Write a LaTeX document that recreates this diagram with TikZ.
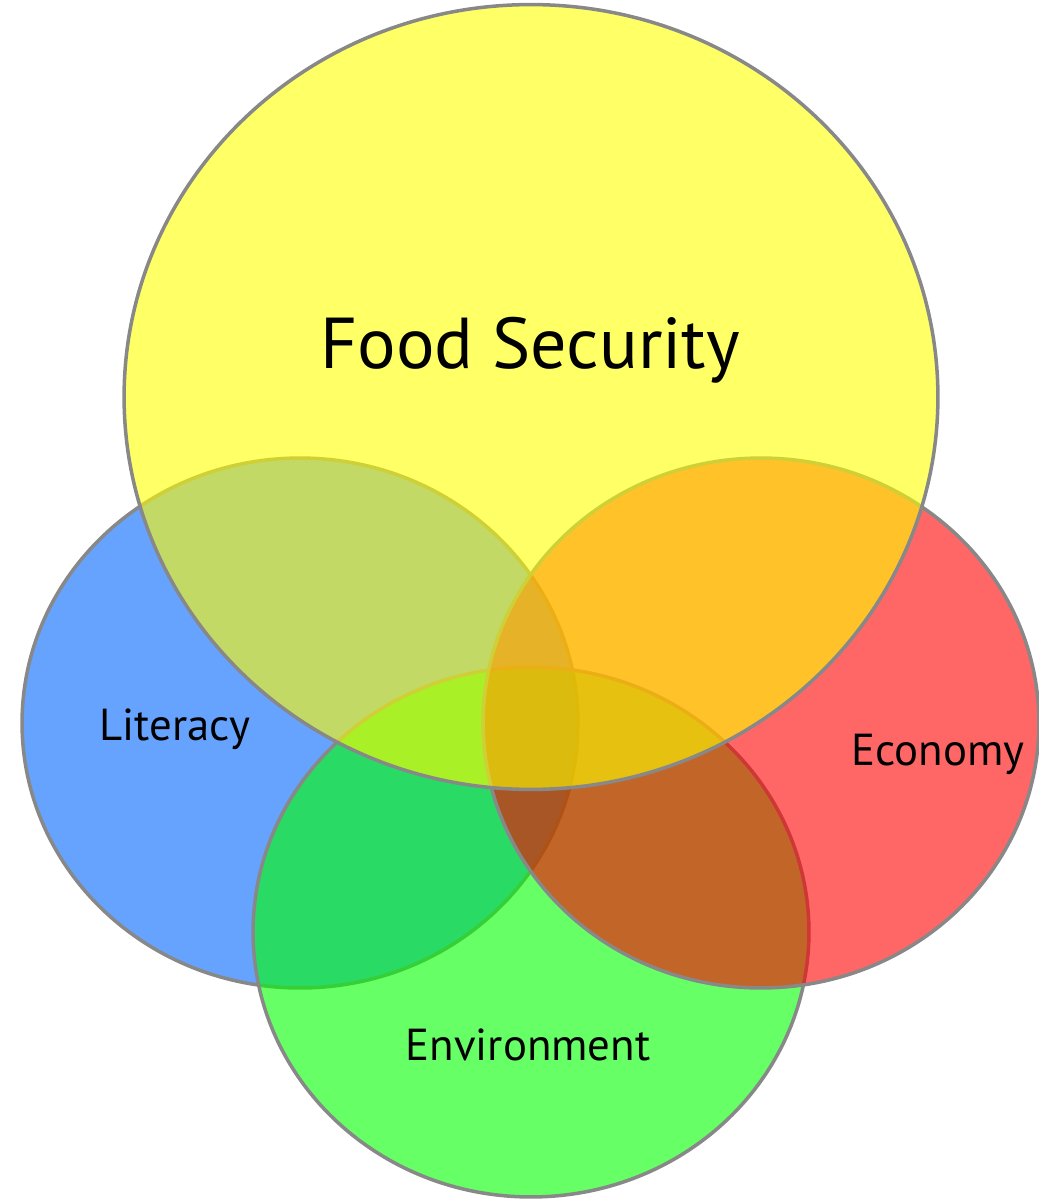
\documentclass[tikz,border=0pt]{standalone}
\usepackage{fontspec}
\setmainfont{PT Sans}
\usetikzlibrary{shapes.geometric}
\definecolor{ringgray}{HTML}{888888}
\definecolor{litblue}{HTML}{0066FF}
\definecolor{envgreen}{HTML}{00FF00}
\definecolor{ecored}{HTML}{FF0000}
\definecolor{foodyellow}{HTML}{FFFF00}

\begin{document}
\begin{tikzpicture}[x=0.02cm, y=-0.02cm,
    set node/.style={ellipse, draw=ringgray, line width=2pt, fill opacity=0.6,
                     inner sep=0pt, minimum width=11.12cm, minimum height=10.6cm},
    big label/.style={anchor=base, font=\fontsize{41}{48}\selectfont},
    small label/.style={anchor=base, font=\fontsize{25.5}{30}\selectfont}]
  \useasboundingbox (0,0) rectangle (1038,1199);

  \node[set node, fill=litblue] (literacy) at (300,723) {};
  \node[set node, fill=envgreen] (environment) at (531,932) {};
  \node[set node, fill=ecored] (economy) at (761,723) {};
  \node[set node, fill=foodyellow, minimum width=16.28cm, minimum height=15.7cm] (food) at (531,397) {};

  \node[big label] (foodtext) at (530,368) {Food Security};
  \node[small label] (littext) at (175,740) {Literacy};
  \node[small label] (ecotext) at (938,765) {Economy};
  \node[small label] (envtext) at (528,1060) {Environment};
\end{tikzpicture}
\end{document}
